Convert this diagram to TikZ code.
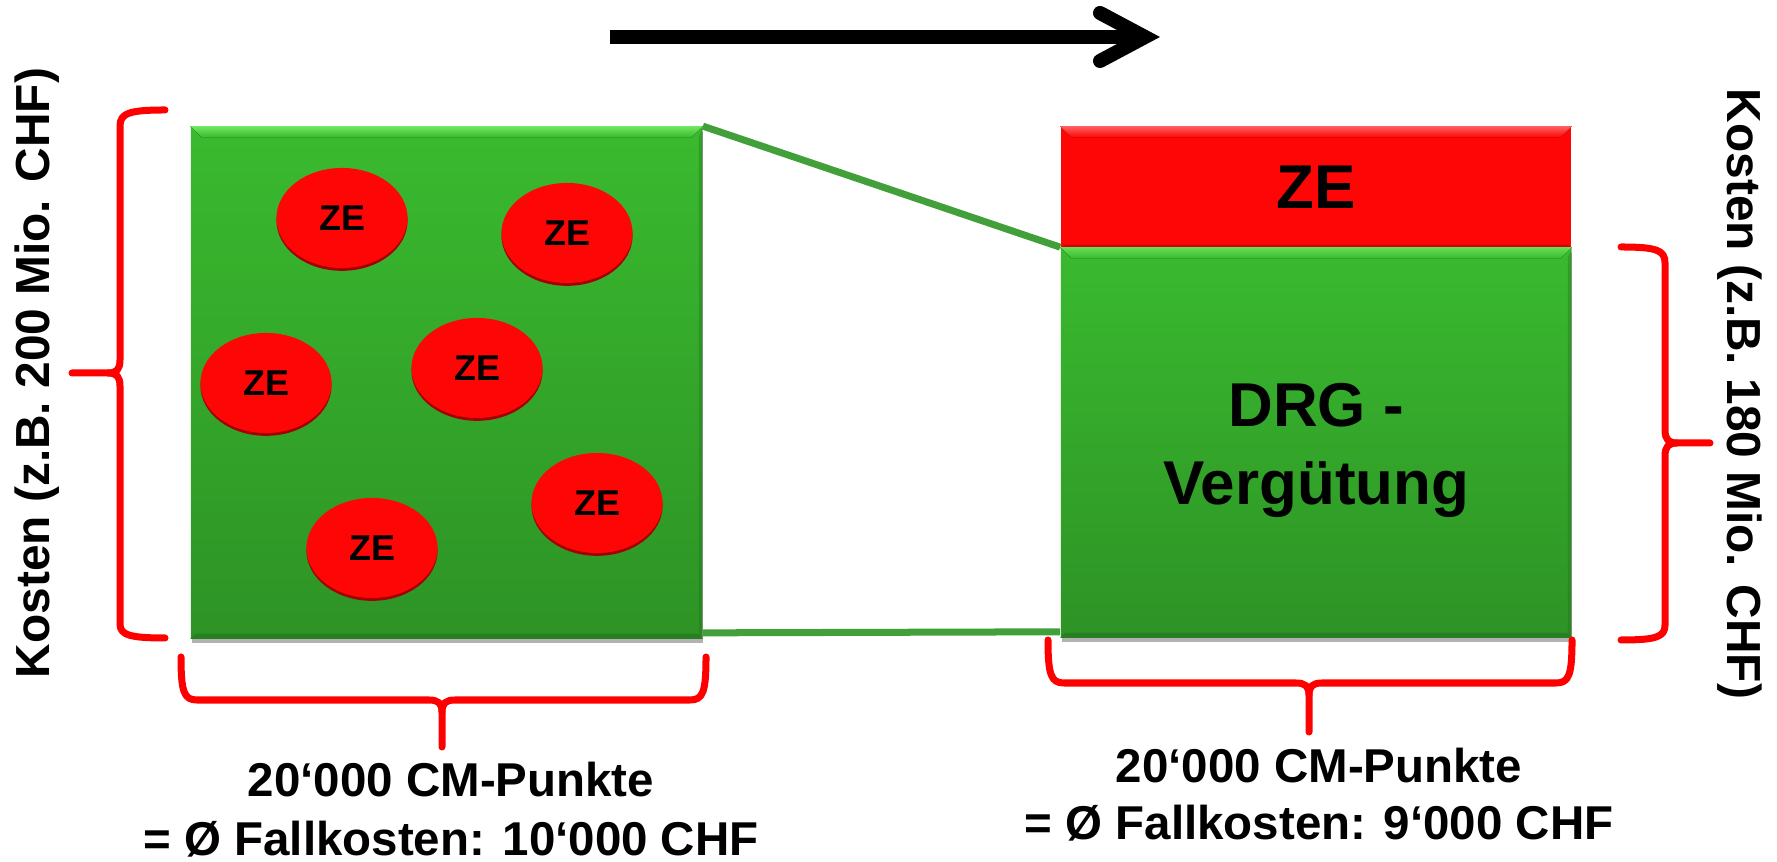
\documentclass[tikz,border=0pt]{standalone}
\usepackage{fontspec}
\setmainfont{Liberation Sans}
\usetikzlibrary{shapes.geometric,shadows,calc}
\definecolor{gTop}{RGB}{58,186,47}
\definecolor{gBot}{RGB}{45,147,37}
\definecolor{gLight}{RGB}{112,232,96}
\definecolor{gDark}{RGB}{38,115,32}
\definecolor{zeRed}{RGB}{255,6,6}
\definecolor{zeDark}{RGB}{165,0,0}
\definecolor{redLight}{RGB}{255,95,95}
\definecolor{lineGreen}{RGB}{66,160,58}
\definecolor{braceRed}{RGB}{255,0,0}
\begin{document}
\begin{tikzpicture}[x=0.01cm,y=-0.01cm,
  greenbox/.style={rectangle,inner sep=0pt,top color=gTop,bottom color=gBot,
    drop shadow={shadow xshift=0.3pt,shadow yshift=-1.4pt,opacity=0.3,fill=black}},
  redband/.style={rectangle,inner sep=0pt,fill=zeRed,
    font=\fontsize{17.6pt}{21pt}\selectfont\bfseries},
  bubble/.style={ellipse,inner sep=0pt,minimum width=1.31cm,minimum height=1cm,
    fill=zeRed,font=\fontsize{10.2pt}{12pt}\selectfont\bfseries,
    drop shadow={shadow xshift=0pt,shadow yshift=-0.8pt,opacity=1,fill=zeDark}},
  bracepath/.style={draw=braceRed,line width=0.07cm,line cap=round,line join=round},
  connline/.style={draw=lineGreen,line width=0.07cm},
  arrowline/.style={draw=black,line width=0.14cm},
  labtext/.style={inner sep=0pt,anchor=base,font=\fontsize{13.5pt}{16pt}\selectfont\bfseries},
  bigtext/.style={inner sep=0pt,anchor=base,font=\fontsize{17.6pt}{21pt}\selectfont\bfseries},
  kosten/.style={inner sep=0pt,font=\fontsize{13.6pt}{16pt}\selectfont\bfseries}
]
\useasboundingbox (0,0) rectangle (1777,862);

% arrow
\coordinate (aS) at (610,37);
\coordinate (aE) at (1145,37);
\begin{scope}[shift={(3,6)},opacity=0.18]
  \draw[arrowline] (aS) -- (aE);
  \draw[arrowline,line cap=round,line join=miter] ($(aE)+(-45,-24)$) -- (aE) -- ($(aE)+(-45,24)$);
\end{scope}
\draw[arrowline] (aS) -- (aE);
\draw[arrowline,line cap=round,line join=miter] ($(aE)+(-45,-24)$) -- (aE) -- ($(aE)+(-45,24)$);

% boxes
\node[greenbox,minimum width=5.11cm,minimum height=5.11cm] (L) at (446.5,382.5) {};
\node[greenbox,minimum width=5.10cm,minimum height=3.89cm] (RG) at (1316,442.5) {};
\node[redband,minimum width=5.10cm,minimum height=1.21cm] (RZ) at (1316,187.5) {};

% bevels
\fill[top color=gLight,bottom color=gTop] (L.north west) -- (L.north east) -- ($(L.north east)+(-11,11)$) -- ($(L.north west)+(11,11)$) -- cycle;
\fill[gDark,opacity=0.6] (L.south west) -- (L.south east) -- ($(L.south east)+(-5,-5)$) -- ($(L.south west)+(5,-5)$) -- cycle;
\fill[gDark,opacity=0.4] (L.north east) -- (L.south east) -- ($(L.south east)+(-4,-4)$) -- ($(L.north east)+(-4,11)$) -- cycle;
\fill[top color=redLight,bottom color=zeRed] (RZ.north west) -- (RZ.north east) -- ($(RZ.north east)+(-11,11)$) -- ($(RZ.north west)+(11,11)$) -- cycle;
\fill[zeDark,opacity=0.5] (RZ.south west) -- (RZ.south east) -- ($(RZ.south east)+(-4,-4)$) -- ($(RZ.south west)+(4,-4)$) -- cycle;
\fill[top color=gLight!80!gTop,bottom color=gTop] (RG.north west) -- (RG.north east) -- ($(RG.north east)+(-11,11)$) -- ($(RG.north west)+(11,11)$) -- cycle;
\fill[gDark,opacity=0.6] (RG.south west) -- (RG.south east) -- ($(RG.south east)+(-5,-5)$) -- ($(RG.south west)+(5,-5)$) -- cycle;
\fill[gDark,opacity=0.4] (RG.north east) -- (RG.south east) -- ($(RG.south east)+(-4,-4)$) -- ($(RG.north east)+(-4,11)$) -- cycle;

\node[inner sep=0pt,font=\fontsize{17.6pt}{21pt}\selectfont\bfseries] (zebig) at (RZ.center) {ZE};

% bubbles
\node[bubble] (z1) at (342,218) {ZE};
\node[bubble] (z2) at (567,233) {ZE};
\node[bubble] (z3) at (266,383) {ZE};
\node[bubble] (z4) at (477,368) {ZE};
\node[bubble] (z5) at (597,503) {ZE};
\node[bubble] (z6) at (372,548) {ZE};

% connecting lines
\draw[connline] (L.north east) -- (RG.north west);
\draw[connline] ($(L.south east)+(0,-6)$) -- ($(RG.south west)+(0,-6)$);

% texts in right box
\node[bigtext] (drg) at (1316,427) {DRG -};
\node[bigtext] (verg) at (1316,505) {Vergütung};

% braces
\draw[bracepath] (165,110) .. controls (130,110) and (120,113) .. (120,126) -- (120,360)
  .. controls (120,369) and (117,373) .. (108,373) -- (72,373);
\draw[bracepath] (108,373) .. controls (117,373) and (120,377) .. (120,386) -- (120,624)
  .. controls (120,635) and (130,638) .. (165,638);

\draw[bracepath] (1621,247) .. controls (1656,247) and (1665,250) .. (1665,263) -- (1665,430)
  .. controls (1665,439) and (1668,443) .. (1677,443) -- (1710,443);
\draw[bracepath] (1677,443) .. controls (1668,443) and (1665,447) .. (1665,456) -- (1665,625)
  .. controls (1665,637) and (1656,640) .. (1621,640);

\draw[bracepath] (181,657) .. controls (181,692) and (184,700) .. (197,700) -- (429,700)
  .. controls (438,700) and (442,703) .. (442,712) -- (442,747);
\draw[bracepath] (442,712) .. controls (442,703) and (446,700) .. (455,700) -- (690,700)
  .. controls (703,700) and (706,692) .. (706,657);

\draw[bracepath] (1048,640) .. controls (1048,675) and (1051,683) .. (1064,683) -- (1296,683)
  .. controls (1305,683) and (1309,686) .. (1309,695) -- (1309,732);
\draw[bracepath] (1309,695) .. controls (1309,686) and (1313,683) .. (1322,683) -- (1556,683)
  .. controls (1569,683) and (1572,675) .. (1572,640);

% rotated labels
\node[kosten,rotate=90] (kl) at (37,373) {Kosten (z.B. 200 Mio. CHF)};
\node[kosten,rotate=-90] (kr) at (1740,394) {Kosten (z.B. 180 Mio. CHF)};

% bottom labels
\node[labtext] (l1) at (451,797) {20‘000 CM-Punkte};
\node[labtext] (l2) at (451,855) {= Ø Fallkosten: 10‘000 CHF};
\node[labtext] (r1) at (1319,782) {20‘000 CM-Punkte};
\node[labtext] (r2) at (1319,839) {= Ø Fallkosten: 9‘000 CHF};
\end{tikzpicture}
\end{document}
